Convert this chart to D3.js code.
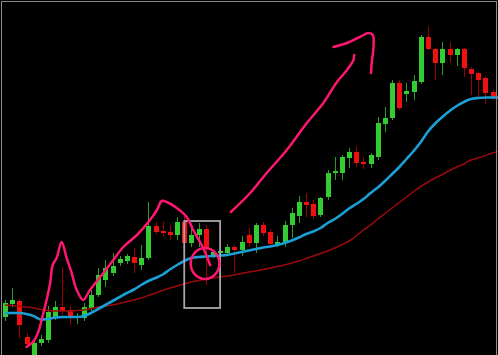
<!DOCTYPE html>
<html lang="en">
<head>
<meta charset="UTF-8">
<title>Candles with moving averages</title>
<script src="https://d3js.org/d3.v7.min.js"></script>
<style>
  body { margin: 0; background: #000; }
  svg { display: block; }
</style>
</head>
<body>
<svg id="chart" width="498" height="355"></svg>
<script>
// one value per candle
const opens  = [83,96,99,63,38,57,60,83,93,90,82,82,92,105,120,127,137,139,143,135,142,174,169,168,165,178,157,165,171,145,147,147,153,150,165,157,175,168,155,157,175,184,198,196,185,203,227,227,242,248,238,236,243,276,282,317,306,308,318,363,351,337,351,345,351,331,327,322,308,303];
const highs  = [100,112,101,67,60,65,94,99,133,94,87,97,110,132,140,147,144,146,152,155,198,178,178,175,183,187,173,177,175,150,150,156,155,164,172,177,178,170,164,179,192,204,207,200,203,230,243,245,252,254,243,247,283,293,320,320,317,325,365,374,352,358,358,352,352,333,328,324,310,315];
const lows   = [79,93,62,53,34,54,57,80,86,75,76,79,89,103,113,124,134,136,127,130,140,166,164,160,160,155,153,153,115,142,144,145,127,144,153,147,164,153,153,153,162,177,183,181,183,200,220,220,232,233,231,232,240,268,280,290,298,300,316,350,320,325,337,334,323,305,301,296,300,300];
const closes = [97,100,75,56,57,61,88,93,89,82,84,93,105,125,132,134,141,144,137,142,174,168,167,165,178,157,165,171,153,148,149,153,150,158,157,175,167,156,158,175,187,198,195,184,202,227,229,243,248,237,236,245,277,282,317,292,309,319,363,351,337,351,345,351,332,326,320,307,303,312];

// moving averages
const fastMA = [87,87,87,86,84,80.5,81,82.5,83,83,83,84,87,91,95,99,103,107,110.5,115,119,122,125.5,130.5,135,139,142,143,143.5,144,144.5,145,146.5,148,149.5,151,152.5,153.5,155,157,159.5,162.5,166,168.5,172,177,181,186,191.5,196,201,207,212.5,219,226,233,241,249,258,268.5,276.5,283,289,294,298,301,302,302.5,302.5,302.5];
const slowMA = [95,94.5,94,93,92,90.5,89.5,89,89,89,89.5,90,91.5,93,94,95,96.5,98.5,100,102,104.5,107,109.5,112,114,116,118,119.5,121,122,123,124,125,126.5,128,129,130.5,132,133.5,135,137,139,141.5,144,146.5,149,152,155.5,159,164,170,175,181,186.5,192,197.5,203,208.5,213.5,218,222,225.5,229.5,233,236,240,242,244.5,247,249];

// pen marks, as [candle index, price]
const zigzag = [[3.0,53],[3.9,58],[4.6,67],[5.1,80],[5.8,100],[6.3,117],[6.65,135],[7.2,142],[7.9,158],[8.6,142],[9.3,127],[10.0,110],[10.9,100],[11.85,110],[13.5,125],[14.9,138],[16.5,153],[18.4,165],[20.0,178],[21.2,190],[21.85,199],[22.55,198],[23.95,192],[25.35,183],[26.25,170],[27.2,158],[27.9,148],[28.35,140],[28.6,135]];
const arrowLine = [[31.5,188],[34.2,207],[36.5,227],[39.3,250],[42.1,277],[44.4,297],[46.3,318],[47.7,330],[48.6,340],[48.7,345]];
const arrowHead = [[45.8,353],[47.7,357],[49.5,363],[50.7,367],[51.3,365],[51.4,353],[51.15,337],[51.05,327]];
const boxIdx = [25, 30];
const boxPrice = [92, 179];
const ringCenter = [27.9, 136.5];
const ringRadius = [2.0, 15.5];

const svg = d3.select("#chart"),
    width = +svg.attr("width"),
    height = +svg.attr("height");

const x = d3.scaleLinear().domain([0, 69]).range([5, 499.7]);
const y = d3.scaleLinear().domain([45, 400]).range([height, 0]);

svg.append("rect").attr("width", width).attr("height", height).attr("fill", "#000");

const candles = opens.map((o, i) => ({ i: i, o: o, h: highs[i], l: lows[i], c: closes[i] }));
const up = d => d.c >= d.o;

// wicks
svg.append("g")
    .selectAll("line")
    .data(candles)
    .join("line")
    .attr("x1", d => Math.round(x(d.i)) + 0.5)
    .attr("x2", d => Math.round(x(d.i)) + 0.5)
    .attr("y1", d => y(d.h))
    .attr("y2", d => y(d.l))
    .attr("stroke", d => up(d) ? "#2a9a2a" : "#a00000")
    .attr("stroke-width", 1);

// bodies
svg.append("g")
    .selectAll("rect")
    .data(candles)
    .join("rect")
    .attr("x", d => Math.round(x(d.i)) - 2)
    .attr("width", 5)
    .attr("y", d => y(Math.max(d.o, d.c)))
    .attr("height", d => Math.max(1.5, Math.abs(y(d.o) - y(d.c))))
    .attr("fill", d => up(d) ? "#33cc33" : "#f01010");

// moving averages
const maLine = d3.line()
    .x((d, i) => x(i))
    .y(d => y(d))
    .curve(d3.curveMonotoneX);

svg.append("path")
    .attr("d", maLine(slowMA))
    .attr("fill", "none")
    .attr("stroke", "#9a0a0a")
    .attr("stroke-width", 1.5);

svg.append("path")
    .attr("d", maLine(fastMA))
    .attr("fill", "none")
    .attr("stroke", "#1a9fd6")
    .attr("stroke-width", 2.6);

// grey box
svg.append("rect")
    .attr("x", x(boxIdx[0]))
    .attr("y", y(boxPrice[1]))
    .attr("width", x(boxIdx[1]) - x(boxIdx[0]))
    .attr("height", y(boxPrice[0]) - y(boxPrice[1]))
    .attr("fill", "none")
    .attr("stroke", "#aaa3ad")
    .attr("stroke-width", 1.8);

// pen strokes
const pen = d3.line()
    .x(d => x(d[0]))
    .y(d => y(d[1]))
    .curve(d3.curveCatmullRom.alpha(0.5));

[zigzag, arrowLine, arrowHead].forEach(pts => {
    svg.append("path")
        .attr("d", pen(pts))
        .attr("fill", "none")
        .attr("stroke", "#ff1670")
        .attr("stroke-width", 2.5)
        .attr("stroke-linecap", "round")
        .attr("stroke-linejoin", "round");
});

svg.append("ellipse")
    .attr("cx", x(ringCenter[0]))
    .attr("cy", y(ringCenter[1]))
    .attr("rx", x(ringRadius[0]) - x(0))
    .attr("ry", y(0) - y(ringRadius[1]))
    .attr("fill", "none")
    .attr("stroke", "#ff1670")
    .attr("stroke-width", 2.5);

// frame
svg.append("rect")
    .attr("x", 1.5)
    .attr("y", 1.5)
    .attr("width", width - 3)
    .attr("height", height + 10)
    .attr("fill", "none")
    .attr("stroke", "#8a8a8a")
    .attr("stroke-width", 1);
</script>
</body>
</html>
